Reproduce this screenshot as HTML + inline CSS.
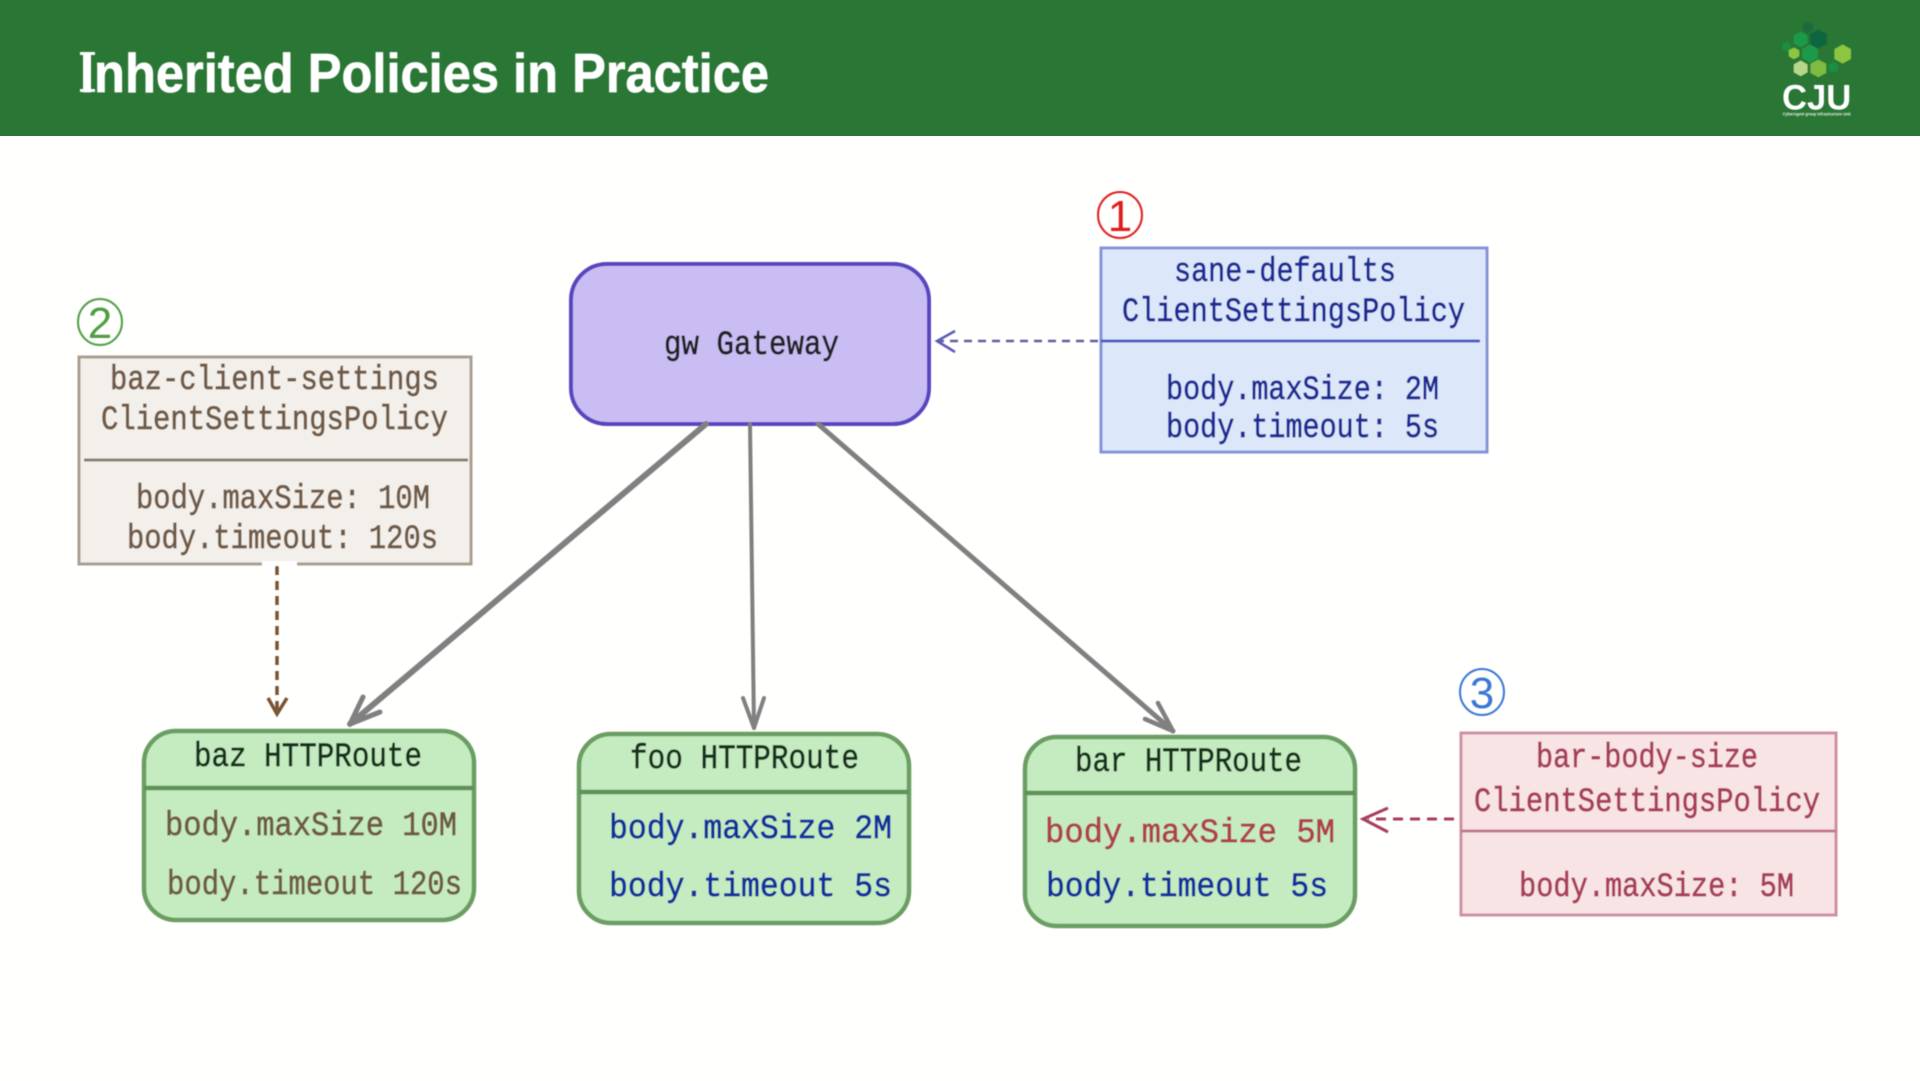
<!DOCTYPE html>
<html><head><meta charset="utf-8"><title>Inherited Policies in Practice</title>
<style>
html,body{margin:0;padding:0;background:#fff;width:1920px;height:1081px;overflow:hidden}
svg{display:block}
.m{font-family:"Liberation Mono",monospace;font-size:34px;stroke-width:.7}
.n{font-family:"Liberation Sans",sans-serif}
</style></head><body>
<svg width="1920" height="1081" viewBox="0 0 1920 1081" xmlns="http://www.w3.org/2000/svg">
<defs><filter id="s" filterUnits="userSpaceOnUse" x="0" y="0" width="1920" height="1081"><feGaussianBlur stdDeviation=".45"/></filter></defs>
<rect width="1920" height="1081" fill="#fffffe"/>
<rect width="1920" height="136" fill="#2a7635"/>
<g filter="url(#s)">
<text class="n" x="80" y="92" font-size="55" font-weight="700" fill="#fff" stroke="#fff" stroke-width=".7" textLength="689" lengthAdjust="spacingAndGlyphs">Inherited Policies in Practice</text>
<path d="M80 53.500H95M80 90.500H95" stroke="#fff" stroke-width="3" fill="none"/>

<!-- logo -->
<g transform="translate(1760 10) scale(.3333)">
<polygon points="143,35 158,43 158,61 143,69 128,61 128,43" fill="#1c6a3c"/>
<polygon points="175,58 200,72 200,102 175,116 150,102 150,72" fill="#0f6640"/>
<polygon points="122,64 143,76 143,100 122,112 101,100 101,76" fill="#1f9a4a"/>
<polygon points="80,95 93,102 93,118 80,125 67,118 67,102" fill="#1f8d42"/>
<polygon points="102,112 118,121 118,139 102,148 86,139 86,121" fill="#8cc63f"/>
<polygon points="150,103 174,117 174,144 150,158 126,144 126,117" fill="#1f9a4a"/>
<polygon points="248,103 273,117 273,147 248,161 223,147 223,117" fill="#8cc63f"/>
<polygon points="122,151 143,163 143,187 122,199 101,187 101,163" fill="#b7d68a"/>
<polygon points="175,148 199,161 199,189 175,202 151,189 151,161" fill="#7dbb42"/>
<polygon points="220,155 235,163 235,181 220,189 205,181 205,163" fill="#1f8d42"/>
<text class="n" x="66" y="298" font-size="105" font-weight="700" fill="#fff" textLength="208" lengthAdjust="spacingAndGlyphs">CJU</text>
<text class="n" x="68" y="317" font-size="13" font-weight="700" fill="#e8f2e8" textLength="204" lengthAdjust="spacingAndGlyphs">CyberAgent group Infrastructure Unit</text>
</g>
</g>

<g filter="url(#s)">
<!-- gateway -->
<rect x="571" y="264" width="358" height="160" rx="36" fill="#c9bdf4" stroke="#5a45bf" stroke-width="4"/>
<text class="m" x="664" y="354" fill="#222" stroke="#222" textLength="175" lengthAdjust="spacingAndGlyphs">gw Gateway</text>

<!-- gray arrows -->
<g fill="none" stroke="#808080" stroke-linecap="round" stroke-linejoin="round">
<path d="M706 424L350 724" stroke-width="6"/><path d="M363 697L350 724L380 712" stroke-width="5"/>
<path d="M750 424L754 728" stroke-width="4"/><path d="M743 698L754 728L764 698" stroke-width="4"/>
<path d="M818 424L1173 731" stroke-width="5"/><path d="M1158 703L1173 731L1145 719" stroke-width="4.500"/>
</g>

<!-- blue policy -->
<text class="n" x="1120" y="231" font-size="44" fill="#e01f1f" text-anchor="middle">1</text>
<ellipse cx="1120" cy="215" rx="22" ry="23" fill="none" stroke="#e01f1f" stroke-width="2"/>
<rect x="1101" y="248" width="386" height="204" fill="#dce8fa" stroke="#8593d8" stroke-width="3"/>
<path d="M1101 341H1480" stroke="#4f5cc0" stroke-width="3"/>
<g class="m" fill="#1c2a94" stroke="#1c2a94">
<text x="1174" y="281" textLength="222" lengthAdjust="spacingAndGlyphs">sane-defaults</text>
<text x="1122" y="321" textLength="343" lengthAdjust="spacingAndGlyphs">ClientSettingsPolicy</text>
<text x="1166" y="399" textLength="273" lengthAdjust="spacingAndGlyphs">body.maxSize: 2M</text>
<text x="1166" y="437" textLength="273" lengthAdjust="spacingAndGlyphs">body.timeout: 5s</text>
</g>
<path d="M1098 341H940" stroke="#5f5fa0" stroke-width="2.500" stroke-dasharray="8 6" fill="none"/>
<path d="M955 331L937 341L955 352" stroke="#5a5ab8" stroke-width="2.500" fill="none"/>

<!-- tan policy -->
<text class="n" x="100" y="338" font-size="44" fill="#4f9e45" text-anchor="middle">2</text>
<ellipse cx="100" cy="322" rx="22" ry="23" fill="none" stroke="#4f9e45" stroke-width="2"/>
<rect x="79" y="357" width="392" height="207" fill="#f3efeb" stroke="#a89f90" stroke-width="3"/>
<path d="M84 460H468" stroke="#8a7f70" stroke-width="3"/>
<g class="m" fill="#6f5a45" stroke="#6f5a45">
<text x="110" y="389" textLength="329" lengthAdjust="spacingAndGlyphs">baz-client-settings</text>
<text x="101" y="429" textLength="347" lengthAdjust="spacingAndGlyphs">ClientSettingsPolicy</text>
<text x="136" y="508" textLength="294" lengthAdjust="spacingAndGlyphs">body.maxSize: 10M</text>
<text x="127" y="548" textLength="311" lengthAdjust="spacingAndGlyphs">body.timeout: 120s</text>
</g>
<rect x="262" y="561" width="35" height="6" fill="#fff"/>
<path d="M277 566V712" stroke="#7a5230" stroke-width="3.500" stroke-dasharray="9 6" fill="none"/>
<path d="M268 698L277 714L287 698" stroke="#7a5230" stroke-width="3.500" fill="none"/>

<!-- routes -->
<g fill="#c5ecc0" stroke="#6a9e62" stroke-width="4.500">
<rect x="144" y="731" width="330" height="189" rx="32"/>
<rect x="579" y="734" width="330" height="189" rx="32"/>
<rect x="1025" y="737" width="330" height="189" rx="32"/>
</g>
<g stroke="#5f9258" stroke-width="4.500">
<path d="M144 788H474"/><path d="M579 792H909"/><path d="M1025 793H1355"/>
</g>
<g class="m">
<g fill="#18301c" stroke="#18301c">
<text x="194" y="766" textLength="228" lengthAdjust="spacingAndGlyphs">baz HTTPRoute</text>
<text x="630" y="768" textLength="229" lengthAdjust="spacingAndGlyphs">foo HTTPRoute</text>
<text x="1075" y="771" textLength="227" lengthAdjust="spacingAndGlyphs">bar HTTPRoute</text>
</g>
<g fill="#6f5a45" stroke="#6f5a45">
<text x="165" y="835" textLength="292" lengthAdjust="spacingAndGlyphs">body.maxSize 10M</text>
<text x="167" y="894" textLength="295" lengthAdjust="spacingAndGlyphs">body.timeout 120s</text>
</g>
<g fill="#10309e" stroke="#10309e">
<text x="609" y="838" textLength="283" lengthAdjust="spacingAndGlyphs">body.maxSize 2M</text>
<text x="609" y="896" textLength="283" lengthAdjust="spacingAndGlyphs">body.timeout 5s</text>
<text x="1046" y="896" textLength="282" lengthAdjust="spacingAndGlyphs">body.timeout 5s</text>
</g>
<text x="1045" y="842" fill="#b04050" stroke="#b04050" textLength="290" lengthAdjust="spacingAndGlyphs">body.maxSize 5M</text>
</g>

<!-- pink policy -->
<text class="n" x="1482" y="708" font-size="44" fill="#3a78d4" text-anchor="middle">3</text>
<ellipse cx="1482" cy="692" rx="22" ry="23" fill="none" stroke="#3a78d4" stroke-width="2"/>
<rect x="1461" y="733" width="375" height="182" fill="#f8e4e4" stroke="#cf8fa0" stroke-width="3"/>
<path d="M1461 831H1836" stroke="#c27a90" stroke-width="3"/>
<g class="m" fill="#a83c5c" stroke="#a83c5c">
<text x="1536" y="767" textLength="222" lengthAdjust="spacingAndGlyphs">bar-body-size</text>
<text x="1474" y="811" textLength="346" lengthAdjust="spacingAndGlyphs">ClientSettingsPolicy</text>
<text x="1519" y="896" textLength="275" lengthAdjust="spacingAndGlyphs">body.maxSize: 5M</text>
</g>
<path d="M1454 819H1368" stroke="#a83c5c" stroke-width="3" stroke-dasharray="10 7" fill="none"/>
<path d="M1388 808L1363 819L1388 832" stroke="#a83c5c" stroke-width="3" fill="none"/>
</g>
</svg>
</body></html>
